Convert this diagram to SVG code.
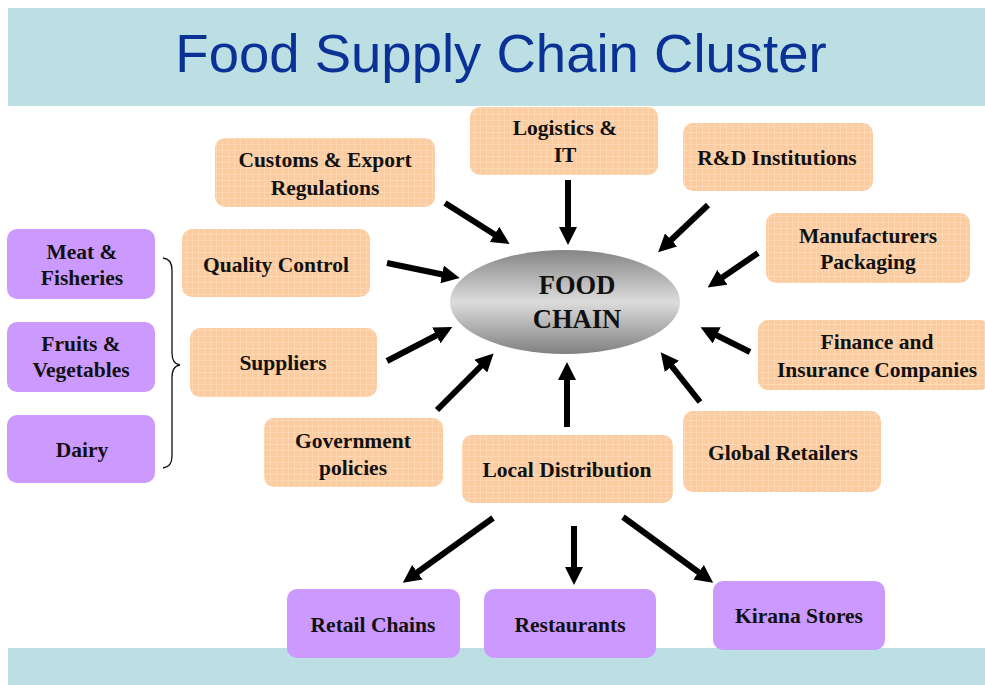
<svg xmlns="http://www.w3.org/2000/svg" width="985" height="685" viewBox="0 0 985 685">
<style>
.bar{fill:#BBDFE2}
.title{font-family:"Liberation Sans",Arial,sans-serif;font-size:54.5px;fill:#0A3296;text-anchor:middle}
.ob{fill:url(#grid)}
.pb{fill:#CC99FF}
.t{font-family:"Liberation Serif","Times New Roman",serif;font-weight:bold;font-size:21.5px;fill:#111;text-anchor:middle}
.ct{font-family:"Liberation Serif","Times New Roman",serif;font-weight:bold;font-size:26.5px;fill:#111;text-anchor:middle}
.arr{stroke:#000;stroke-width:6;fill:none;marker-end:url(#ah)}
</style>
<defs>
<pattern id="grid" width="6" height="6" patternUnits="userSpaceOnUse">
<rect width="6" height="6" fill="#FDCC9E"/>
<path d="M0,0.5 H6 M0.5,0 V6" stroke="#FED8B4" stroke-width="1" fill="none"/>
</pattern>
<linearGradient id="eg" x1="0" y1="0" x2="0" y2="1">
<stop offset="0" stop-color="#858585"/>
<stop offset="0.5" stop-color="#DCDCDC"/>
<stop offset="1" stop-color="#808080"/>
</linearGradient>
<marker id="ah" viewBox="0 0 18 18" markerUnits="userSpaceOnUse" markerWidth="18" markerHeight="18" refX="3" refY="9" orient="auto">
<path d="M0,0 L18,9 L0,18 z" fill="#000"/>
</marker>
</defs>
<rect x="0" y="0" width="985" height="685" fill="#fff"/>
<rect class="bar" x="8" y="8" width="977" height="98"/>
<text class="title" x="501" y="72">Food Supply Chain Cluster</text>
<rect class="bar" x="8" y="648" width="977" height="37"/>

<g id="connectors">
<line class="arr" x1="445" y1="203" x2="497" y2="236"/>
<line class="arr" x1="387" y1="263" x2="445" y2="275"/>
<line class="arr" x1="568" y1="180" x2="568" y2="230"/>
<line class="arr" x1="708" y1="205" x2="669" y2="242"/>
<line class="arr" x1="758" y1="253" x2="720" y2="279"/>
<line class="arr" x1="750" y1="352" x2="714" y2="334"/>
<line class="arr" x1="700" y1="402" x2="670" y2="364"/>
<line class="arr" x1="567" y1="427" x2="567" y2="377"/>
<line class="arr" x1="437" y1="410" x2="483" y2="364"/>
<line class="arr" x1="387" y1="361" x2="439" y2="334"/>
<line class="arr" x1="493" y1="518" x2="415" y2="574"/>
<line class="arr" x1="574" y1="526" x2="574" y2="570"/>
<line class="arr" x1="623" y1="517" x2="701" y2="574"/>
<path d="M163,258 Q172,259 172,270 V353 Q172,364 180,365 Q172,366 172,377 V456 Q172,467 163,468" stroke="#111" stroke-width="1.3" fill="none"/>
</g>

<g id="food-chain">
<ellipse cx="565" cy="302" rx="115" ry="52" fill="url(#eg)"/>
<text class="ct" x="577" y="294">FOOD</text>
<text class="ct" x="577" y="328">CHAIN</text>
</g>

<g id="customs"><rect class="ob" x="215" y="138" width="220" height="69" rx="10"/>
<text class="t" x="325" y="167">Customs &amp; Export</text><text class="t" x="325" y="195">Regulations</text></g>
<g id="logistics"><rect class="ob" x="470" y="107" width="188" height="68" rx="10"/>
<text class="t" x="565" y="135">Logistics &amp;</text><text class="t" x="565" y="162">IT</text></g>
<g id="rd"><rect class="ob" x="683" y="123" width="190" height="68" rx="10"/>
<text class="t" x="777" y="165">R&amp;D Institutions</text></g>
<g id="quality"><rect class="ob" x="182" y="229" width="188" height="68" rx="10"/>
<text class="t" x="276" y="272">Quality Control</text></g>
<g id="manufacturers"><rect class="ob" x="766" y="213" width="204" height="70" rx="10"/>
<text class="t" x="868" y="243">Manufacturers</text><text class="t" x="868" y="269">Packaging</text></g>
<g id="suppliers"><rect class="ob" x="190" y="328" width="187" height="69" rx="10"/>
<text class="t" x="283" y="370">Suppliers</text></g>
<g id="finance"><rect class="ob" x="758" y="320" width="232" height="70" rx="10"/>
<text class="t" x="877" y="349">Finance and</text><text class="t" x="877" y="377">Insurance Companies</text></g>
<g id="government"><rect class="ob" x="264" y="418" width="179" height="69" rx="10"/>
<text class="t" x="353" y="448">Government</text><text class="t" x="353" y="475">policies</text></g>
<g id="local"><rect class="ob" x="462" y="435" width="211" height="68" rx="10"/>
<text class="t" x="567" y="477">Local Distribution</text></g>
<g id="global"><rect class="ob" x="683" y="411" width="198" height="81" rx="10"/>
<text class="t" x="783" y="460">Global Retailers</text></g>

<g id="meat"><rect class="pb" x="7" y="229" width="148" height="70" rx="10"/>
<text class="t" x="82" y="259">Meat &amp;</text><text class="t" x="82" y="285">Fisheries</text></g>
<g id="fruits"><rect class="pb" x="7" y="322" width="148" height="70" rx="10"/>
<text class="t" x="81" y="351">Fruits &amp;</text><text class="t" x="81" y="377">Vegetables</text></g>
<g id="dairy"><rect class="pb" x="7" y="415" width="148" height="68" rx="10"/>
<text class="t" x="82" y="457">Dairy</text></g>
<g id="retail"><rect class="pb" x="287" y="589" width="173" height="69" rx="10"/>
<text class="t" x="373" y="632">Retail Chains</text></g>
<g id="restaurants"><rect class="pb" x="484" y="589" width="172" height="69" rx="10"/>
<text class="t" x="570" y="632">Restaurants</text></g>
<g id="kirana"><rect class="pb" x="713" y="581" width="172" height="69" rx="10"/>
<text class="t" x="799" y="623">Kirana Stores</text></g>
</svg>
